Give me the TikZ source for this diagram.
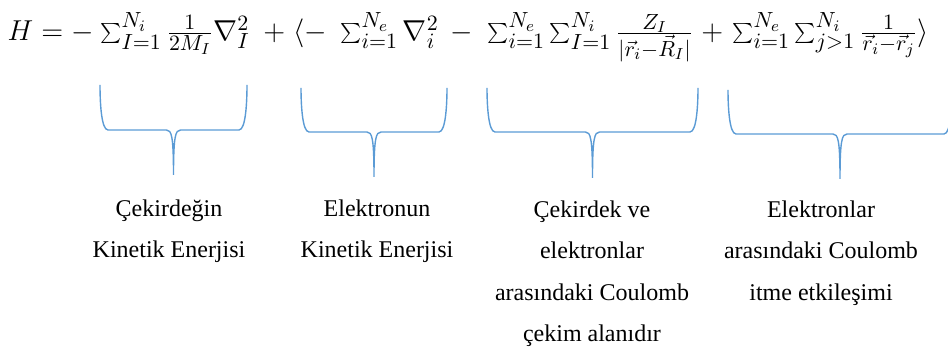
\documentclass[tikz,border=0pt]{standalone}
\usepackage[no-math]{fontspec}
\setmainfont{Liberation Serif}
\DeclareMathSizes{14.4}{14.4}{10.95}{8}
\definecolor{braceblue}{HTML}{5B9BD5}
% one curly brace under a term: left x, right x, top y, bar y, tip y
\newcommand{\termbrace}[5]{%
  \pgfmathsetmacro\bmid{(#1+#2)/2}
  \draw[brace] (#1,#3) .. controls (#1,#4-30) and (#1+1,#4) .. (#1+8,#4)
    -- (\bmid-7,#4) .. controls (\bmid-2,#4) and (\bmid,#4+6) .. (\bmid,#5)
    .. controls (\bmid,#4+6) and (\bmid+2,#4) .. (\bmid+7,#4)
    -- (#2-8,#4) .. controls (#2-1,#4) and (#2,#4-30) .. (#2,#3);}
\begin{document}
\begin{tikzpicture}[x=0.5pt, y=-0.5pt,
    eq/.style={inner sep=0, anchor=base west, font=\fontsize{14.4}{17}\selectfont},
    brace/.style={braceblue, line width=0.7pt},
    label/.style={align=center, inner sep=0, anchor=base,
      font=\fontsize{12}{20.75}\selectfont}]
  \clip (0,0) rectangle (948,347);
  % the Hamiltonian, one node per term so that each sits over its brace
  \node[eq, anchor=base east] (hlead) at (94,41) {$H = -$};
  \node[eq] (tkin) at (100,41) {$\sum_{I=1}^{N_i}\frac{1}{2M_I}\nabla_I^2$};
  \node[eq] (bopen) at (263,41) {${+}\;\langle{-}$};
  \node[eq] (ekin) at (340,41) {$\sum_{i=1}^{N_e}\nabla_i^2$};
  \node[eq] (bminus) at (450,41) {${-}$};
  \node[eq] (coul) at (487,41)
    {$\sum_{i=1}^{N_e}\sum_{I=1}^{N_i}\frac{Z_I}{|\vec{r}_i-\vec{R}_I|}$};
  \node[eq] (bplus) at (701,41) {${+}$};
  \node[eq] (rep) at (732,41)
    {$\sum_{i=1}^{N_e}\sum_{j>1}^{N_i}\frac{1}{\vec{r}_i-\vec{r}_j}\rangle$};
  \termbrace{100}{247}{85}{130}{175}
  \termbrace{301}{447}{88}{132}{177}
  \termbrace{487}{698}{88}{132}{178}
  \termbrace{728}{952}{90}{134}{179}
  \node[label] (kinnuc) at (169,258) {Çekirdeğin\\Kinetik Enerjisi};
  \node[label] (kinel) at (377,258) {Elektronun\\Kinetik Enerjisi};
  \node[label] (attract) at (592,341.5) {Çekirdek ve\\elektronlar\\arasındaki Coulomb\\çekim alanıdır};
  \node[label] (repel) at (821,300) {Elektronlar\\arasındaki Coulomb\\itme etkileşimi};
\end{tikzpicture}
\end{document}
